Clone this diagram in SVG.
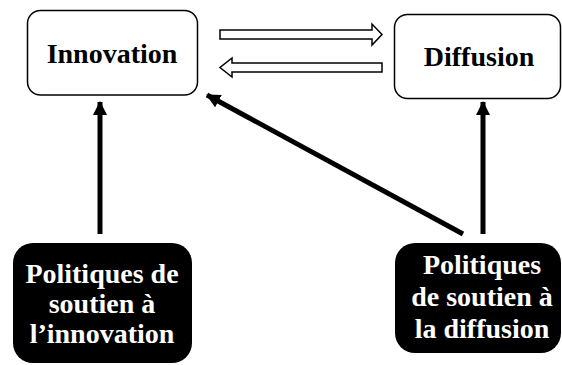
<svg xmlns="http://www.w3.org/2000/svg" width="562" height="365" viewBox="0 0 562 365">
<defs>
<style>
.box{fill:#fff;stroke:#000;stroke-width:1.5}
.dark{fill:#000;stroke:none}
.t{font-family:"Liberation Serif","Times New Roman",serif;font-weight:bold;font-size:28px;text-anchor:middle}
.tw{fill:#fff}
.tb{fill:#000}
.hollow{fill:#fff;stroke:#000;stroke-width:1.5;stroke-linejoin:miter}
.conn{stroke:#000;stroke-width:5;fill:none}
</style>
<marker id="ah" markerUnits="userSpaceOnUse" markerWidth="14" markerHeight="14" refX="13" refY="7" orient="auto">
<path d="M0,0 L14,7 L0,14 Z" fill="#000"/>
</marker>
</defs>
<rect width="562" height="365" fill="#fff"/>
<g id="innovation">
<rect class="box" x="27.5" y="10.5" width="170" height="84.5" rx="13"/>
<text class="t tb" x="112" y="63">Innovation</text>
</g>
<g id="diffusion">
<rect class="box" x="394.5" y="14.5" width="166" height="84" rx="13"/>
<text class="t tb" x="479" y="66">Diffusion</text>
</g>
<g id="politiques-innovation">
<rect class="dark" x="13" y="243" width="179" height="120" rx="20"/>
<text class="t tw" x="102" y="283">Politiques de</text>
<text class="t tw" x="102" y="313">soutien à</text>
<text class="t tw" x="102" y="343">l’innovation</text>
</g>
<g id="politiques-diffusion">
<rect class="dark" x="395" y="243" width="166" height="110" rx="20"/>
<text class="t tw" x="482" y="274">Politiques</text>
<text class="t tw" x="482" y="306">de soutien à</text>
<text class="t tw" x="482" y="338">la diffusion</text>
</g>
<g id="connectors">
<path class="hollow" d="M220,30 L372,30 L372,24 L382,34.5 L372,45 L372,39 L220,39 Z"/>
<path class="hollow" d="M382,63 L232,63 L232,58 L220,67.5 L232,77 L232,72 L382,72 Z"/>
<line class="conn" x1="100" y1="234" x2="100" y2="102" marker-end="url(#ah)"/>
<line class="conn" x1="483" y1="234" x2="483" y2="102" marker-end="url(#ah)"/>
<line class="conn" x1="463" y1="234" x2="207" y2="95" marker-end="url(#ah)"/>
</g>
</svg>
